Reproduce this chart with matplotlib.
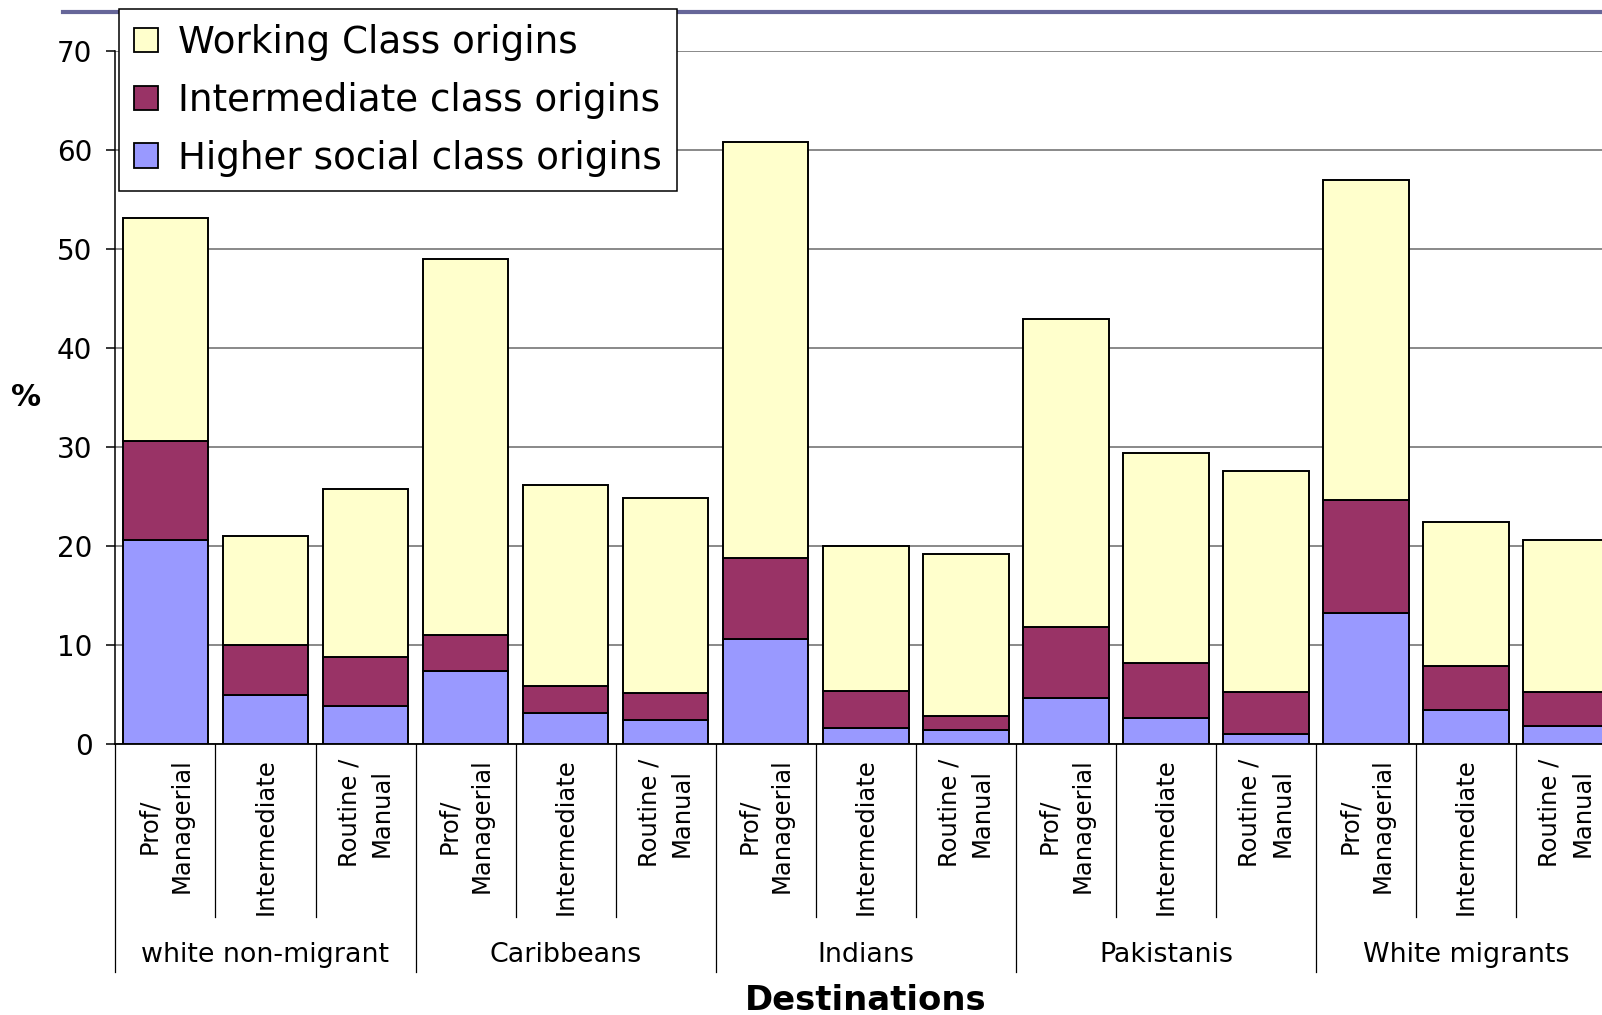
import numpy as np
import matplotlib
matplotlib.use("Agg")
import matplotlib.pyplot as plt
from matplotlib.patches import Patch
from matplotlib.lines import Line2D
from matplotlib.transforms import blended_transform_factory

plt.rcParams['font.family'] = ['DejaVu Sans']

# origin groups and destination classes
groups = ['white non-migrant', 'Caribbeans', 'Indians', 'Pakistanis', 'White migrants']
destinations = ['Prof/\nManagerial', 'Intermediate', 'Routine /\nManual']

# % by class origin, one value per bar (group x destination)
higher = [20.6, 5.0, 3.85, 7.4, 3.1, 2.4, 10.6, 1.6, 1.4, 4.6, 2.6, 1.0, 13.2, 3.4, 1.85]
intermediate = [10.0, 5.0, 4.95, 3.6, 2.8, 2.8, 8.2, 3.8, 1.45, 7.2, 5.6, 4.3, 11.4, 4.5, 3.45]
working = [22.5, 11.0, 16.95, 38.0, 20.3, 19.6, 42.0, 14.6, 16.35, 31.1, 21.2, 22.3, 32.4, 14.5, 15.3]

col_higher = '#9999FF'
col_inter = '#993366'
col_working = '#FFFFCC'

W, H = 1602, 1015
fig = plt.figure(figsize=(W / 100, H / 100), dpi=100)
# plot area runs past the right edge, as in the original slide
ax = fig.add_axes([115.4 / W, 1 - 744 / H, 1500.75 / W, 693 / H])

x = np.arange(len(higher))
higher = np.array(higher)
intermediate = np.array(intermediate)
working = np.array(working)

bw = 0.855
ax.bar(x, higher, bw, color=col_higher, edgecolor='black', linewidth=1.4, zorder=3)
ax.bar(x, intermediate, bw, bottom=higher, color=col_inter, edgecolor='black',
       linewidth=1.4, zorder=3)
ax.bar(x, working, bw, bottom=higher + intermediate, color=col_working,
       edgecolor='black', linewidth=1.4, zorder=3)

ax.set_xlim(-0.5, len(x) - 0.5)
ax.set_ylim(0, 70)
ax.set_yticks(np.arange(0, 71, 10))
ax.yaxis.grid(True, color='#808080', linewidth=1.3)
ax.set_axisbelow(True)
ax.set_xticks([])
ax.tick_params(axis='y', direction='out', length=6.5, width=1.1, pad=10,
               labelsize=20, colors='black')
for s in ['top', 'right']:
    ax.spines[s].set_visible(False)
ax.spines['left'].set_linewidth(1.1)
ax.spines['bottom'].set_linewidth(1.3)

# category labels under the axis
tr = blended_transform_factory(ax.transData, ax.transAxes)
n_dest = len(destinations)
for gi, g in enumerate(groups):
    for di, d in enumerate(destinations):
        ax.text(gi * n_dest + di, -0.021, d, transform=tr, rotation=90,
                ha='center', va='top', multialignment='center',
                fontsize=17.5, linespacing=1.45)
    ax.text(gi * n_dest + 1, -0.3045, g, transform=tr, ha='center',
            va='center', fontsize=19.4)

for i in range(len(x) + 1):
    low = -0.329 if i % n_dest == 0 else -0.2496
    ax.plot([i - 0.5, i - 0.5], [0, low], transform=tr, color='black',
            linewidth=0.9, clip_on=False)

ax.text(0.5, -(1001 - 744) / 693, 'Destinations', transform=ax.transAxes,
        ha='center', va='center', fontsize=24.4, fontweight='bold')
fig.text(26 / W, 1 - 398 / H, '%', ha='center', va='center',
         fontsize=21.6, fontweight='bold')

# slide title underline
fig.add_artist(Line2D([63 / W, 1], [1 - 12 / H, 1 - 12 / H], color='#666699',
                      linewidth=3))

handles = [Patch(facecolor=col_working, edgecolor='black', linewidth=1.3),
           Patch(facecolor=col_inter, edgecolor='black', linewidth=1.3),
           Patch(facecolor=col_higher, edgecolor='black', linewidth=1.3)]
labels = ['Working Class origins', 'Intermediate class origins',
          'Higher social class origins']
leg = fig.legend(handles, labels, loc='upper left',
                 bbox_to_anchor=(119 / W, 1 - 9 / H), borderaxespad=0,
                 fontsize=26.8, frameon=True, fancybox=False, framealpha=1,
                 edgecolor='black', borderpad=0.4, labelspacing=0.56,
                 handlelength=0.64, handleheight=0.62, handletextpad=0.55)
leg.get_frame().set_linewidth(1.1)
leg.set_zorder(10)

fig.savefig('out.png', dpi=100)
